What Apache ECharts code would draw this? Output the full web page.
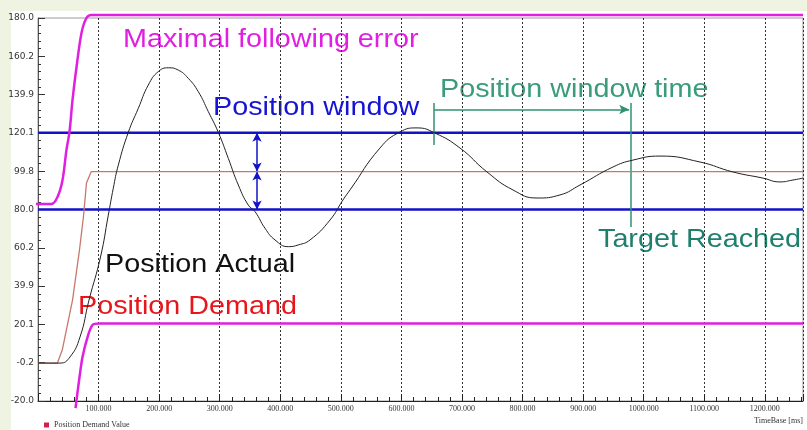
<!DOCTYPE html>
<html>
<head>
<meta charset="utf-8">
<script src="https://cdn.jsdelivr.net/npm/echarts@6/dist/echarts.min.js"></script>
<style>
html,body{margin:0;padding:0;background:#eef3e2;}
#wrap{position:relative;width:807px;height:430px;overflow:hidden;background:#eef3e2;}
#panel{position:absolute;left:11px;top:11px;right:0;bottom:0;background:#fff;}
#chart{position:absolute;left:0;top:0;width:807px;height:430px;}
</style>
</head>
<body>
<div id="wrap"><div id="panel"></div><div id="chart"></div></div>
<script>
// ---- data (time in ms, position value) ----
const yTickLabels = ['-20.0','-0.2','20.1','39.9','60.2','80.0','99.8','120.1','139.9','160.2','180.0'];
const demandT = [0, 32, 40, 57, 68.5, 75, 80, 88, 1263];
const demandV = [-0.2, -0.2, 6.6, 32.7, 58.9, 76.1, 93.8, 99.8, 99.8];
const actualT = [0, 36.3, 52.8, 69.3, 84.2, 103.2, 116.1, 124.3, 132.6, 149.1, 165.6, 182.1, 198.6, 215.1, 231.6, 248.1, 264.7, 281.2, 297.7, 314.2, 330.7, 347.2, 358.3, 374.8, 391.3, 413.3, 429.8, 449.1, 482.1, 503.5, 515.1, 564.6, 597.7, 625.7, 655.4, 696.7, 741.3, 784.2, 823.9, 861.8, 894.8, 949.3, 982.3, 1026.9, 1092.9, 1147.4, 1196.9, 1225, 1246.5, 1263];
const actualV = [-0.2, -0.2, 3.0, 13.4, 32.7, 55.2, 77.1, 91.1, 103.2, 120.3, 132.8, 145.0, 152.0, 154.0, 152.8, 148.5, 141.5, 131.1, 120.3, 106.7, 92.8, 82.3, 78.9, 70.2, 64.1, 60.6, 61.5, 64.1, 74.5, 85.0, 90.2, 112.1, 120.5, 122.6, 119.9, 112.1, 99.6, 90.2, 86.0, 87.6, 92.8, 102.2, 105.8, 107.9, 104.8, 99.6, 96.4, 94.4, 95.4, 96.4];
const upperErrT = [-11, 22.3, 32.2, 40.5, 47, 52, 57, 63.6, 71.8, 80, 88.4, 1263];
const upperErrV = [82.9, 82.9, 86.5, 95.4, 111.1, 120.5, 137.2, 154.4, 172.2, 180.0, 181.6, 181.6];
const lowerErrT = [62, 63.6, 68.5, 73.5, 81.8, 90, 101.6, 1263];
const lowerErrV = [-23.7, -19.5, -7.5, 3.0, 13.4, 19.7, 20.5, 20.5];
const windowHigh = 120.1;
const windowLow = 80.0;
const targetValue = 99.8;
const xMax = 1263;
// annotation anchors (data coords)
const followArrowT = 115.6;
const windowArrowT = 361.6;
const windowTimeStart = 654;
const windowTimeEnd = 978;
const windowTimeArrowV = 132.2;

const zip = (t, v) => t.map((x, i) => [x, v[i]]);
const MAG = '#e01fe0', BLUE = '#1212c8', GREEN = '#2f9274', RED = '#c8786a';
const SX = 1.15;
const txt = (text, x, y, size, fill) => ({type: 'text', x: x, y: y, scaleX: SX, style: {text: text, font: size + 'px "Liberation Sans"', fill: fill, verticalAlign: 'top'}});

const chart = echarts.init(document.getElementById('chart'), null, {renderer: 'canvas'});
const legendText = {fontFamily: 'Liberation Serif', fontSize: 8, color: '#333'};
const option = {
  backgroundColor: 'transparent',
  animation: false,
  grid: {left: 38, right: 4, top: 18, bottom: 29, show: true, borderColor: '#9a9a9a', borderWidth: 1, backgroundColor: 'transparent'},
  legend: [
    {left: 39, top: 416, itemWidth: 5, itemHeight: 5, icon: 'rect', textStyle: legendText,
      data: [{name: 'Position Demand Value', itemStyle: {color: '#d3204c'}}]}
  ],
  xAxis: {
    type: 'value', min: 0, max: xMax, interval: 100,
    axisLine: {onZero: false, lineStyle: {color: '#222', width: 1}},
    axisTick: {inside: true, length: 7, lineStyle: {color: '#222'}},
    minorTick: {show: true, splitNumber: 5, length: 4, lineStyle: {color: '#222'}},
    splitLine: {show: true, lineStyle: {color: '#333', type: [2, 2], width: 1}},
    axisLabel: {fontFamily: 'Liberation Serif', fontSize: 8, color: '#333', margin: 4,
      formatter: v => (v > 0 && Math.abs(v % 100) < 1e-6) ? v.toFixed(3) : ''}
  },
  yAxis: {
    type: 'value', min: -20, max: 180, interval: 20,
    axisLine: {show: true, lineStyle: {color: '#555', width: 1}},
    axisTick: {show: true, inside: true, length: 7, lineStyle: {color: '#333'}},
    minorTick: {show: true, splitNumber: 5, length: 3, lineStyle: {color: '#333'}},
    splitLine: {show: false},
    axisLabel: {fontFamily: 'DejaVu Sans', fontSize: 9, color: '#333', margin: 4,
      formatter: v => yTickLabels[Math.round((v + 20) / 20)] || ''}
  },
  graphic: [
    txt('Maximal following error', 123, 28, 25, MAG),
    txt('Position window', 213, 96, 25, '#1414d2'),
    txt('Position window time', 440, 78, 25, '#3a9c7c'),
    txt('Target Reached', 598, 228, 25, '#1f7f6d'),
    txt('Position Actual', 105, 253, 25, '#111'),
    txt('Position Demand', 78, 295, 25, '#e8161c'),
    {type: 'text', right: 4, top: 417, style: {text: 'TimeBase [ms]', font: '8px "Liberation Serif"', fill: '#333', textAlign: 'right'}}
  ],
  series: [
    {name: 'Window high', type: 'line', data: [[0, windowHigh], [xMax, windowHigh]], symbol: 'none', lineStyle: {color: BLUE, width: 2.5}, z: 3},
    {name: 'Window low', type: 'line', data: [[0, windowLow], [xMax, windowLow]], symbol: 'none', lineStyle: {color: BLUE, width: 2.5}, z: 3,
      markLine: {silent: true, symbol: ['arrow', 'arrow'], symbolSize: [7, 9], lineStyle: {color: BLUE, width: 1.5, type: 'solid'}, label: {show: false},
        data: [
          [{coord: [windowArrowT, windowHigh]}, {coord: [windowArrowT, targetValue]}],
          [{coord: [windowArrowT, targetValue]}, {coord: [windowArrowT, windowLow]}]
        ]}},
    {name: 'Upper error', type: 'line', data: zip(upperErrT, upperErrV), symbol: 'none', smooth: 0.3, clip: false, lineStyle: {color: MAG, width: 2.5}, z: 4,
      markLine: {silent: true, symbol: ['arrow', 'arrow'], symbolSize: [7, 10], lineStyle: {color: MAG, width: 1.5, type: 'solid'}, label: {show: false},
        data: [[{coord: [followArrowT, 181.6]}, {coord: [followArrowT, targetValue]}]]}},
    {name: 'Lower error', type: 'line', data: zip(lowerErrT, lowerErrV), symbol: 'none', smooth: 0.3, clip: false, lineStyle: {color: MAG, width: 2.5}, z: 4},
    {name: 'Position Demand Value', type: 'line', data: zip(demandT, demandV), symbol: 'none', lineStyle: {color: RED, width: 1.3}, itemStyle: {color: '#d3204c'}, z: 5},
    {name: 'Position Actual Value', type: 'line', data: zip(actualT, actualV), symbol: 'none', smooth: 0.5, lineStyle: {color: '#222', width: 1}, itemStyle: {color: '#444'}, z: 6,
      markLine: {silent: true, symbol: ['none', 'none'], lineStyle: {color: GREEN, width: 1.5, type: 'solid'}, label: {show: false},
        data: [
          [{coord: [windowTimeStart, 135.6]}, {coord: [windowTimeStart, 113.7]}],
          [{coord: [windowTimeEnd, 135.6]}, {coord: [windowTimeEnd, 70.9]}],
          [{coord: [windowTimeStart, windowTimeArrowV], symbol: 'none'}, {coord: [windowTimeEnd - 2, windowTimeArrowV], symbol: 'arrow', symbolSize: [7, 10]}]
        ]}}
  ]
};
chart.setOption(option);
</script>
</body>
</html>
